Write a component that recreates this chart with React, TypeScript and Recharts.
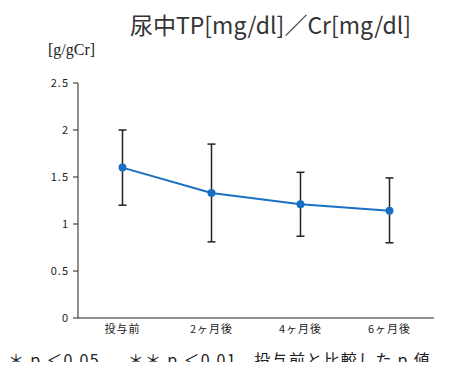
import { LineChart, Line, XAxis, YAxis, ErrorBar } from 'recharts'

const periods = ['投与前', '2ヶ月後', '4ヶ月後', '6ヶ月後']
const means = [1.6, 1.33, 1.21, 1.14]
const upper = [2.0, 1.85, 1.55, 1.49]
const lower = [1.2, 0.81, 0.87, 0.8]
const yTicks = [0, 0.5, 1, 1.5, 2, 2.5]

const data = periods.map((p, i) => ({
  period: p,
  value: means[i],
  err: [means[i] - lower[i], upper[i] - means[i]],
}))

const cjk = '"Noto Sans CJK JP", "Noto Sans", sans-serif'

// tick labels take their font from this wrapper
export default function App() {
  return (
    <div
      style={{
        margin: '-8px 0 -8px -8px', position: 'relative', width: 454, height: 370,
        fontFamily: cjk, fontSize: 11, letterSpacing: 1,
      }}
    >
      <LineChart
        width={454}
        height={370}
        data={data}
        margin={{ top: 83, right: 20, bottom: 51, left: 0 }}
      >
        <XAxis
          dataKey="period"
          scale="band"
          height={1}
          stroke="#222"
          tickSize={0}
          tickMargin={7}
        />
        <YAxis
          domain={[0, 2.5]}
          ticks={yTicks}
          width={78}
          stroke="#222"
          tickSize={5}
          tickMargin={4}
        />
        <Line
          dataKey="value"
          stroke="#1a6fc4"
          strokeWidth={2}
          dot={{ r: 3, fill: '#1a6fc4', stroke: '#1a6fc4' }}
          isAnimationActive={false}
        >
          <ErrorBar dataKey="err" direction="y" width={4} stroke="#222" strokeWidth={1.5} />
        </Line>
      </LineChart>
      <div
        style={{
          position: 'absolute', left: 130, top: 9, fontSize: 23, letterSpacing: 0,
          color: '#333', whiteSpace: 'nowrap', lineHeight: '30px',
        }}
      >
        尿中TP[mg/dl]／Cr[mg/dl]
      </div>
      <div
        style={{
          position: 'absolute', left: 48, top: 40, fontFamily: '"Liberation Serif", serif',
          fontSize: 16, letterSpacing: 0, color: '#222', lineHeight: '20px',
        }}
      >
        [g/gCr]
      </div>
      <div
        style={{
          position: 'absolute', left: 8, top: 349, fontSize: 16,
          color: '#222', whiteSpace: 'nowrap', lineHeight: '20px', letterSpacing: 1.3,
        }}
      >
        ＊ p ＜0.05,　 ＊＊ p ＜0.01　投与前と比較した p 値
      </div>
    </div>
  )
}
